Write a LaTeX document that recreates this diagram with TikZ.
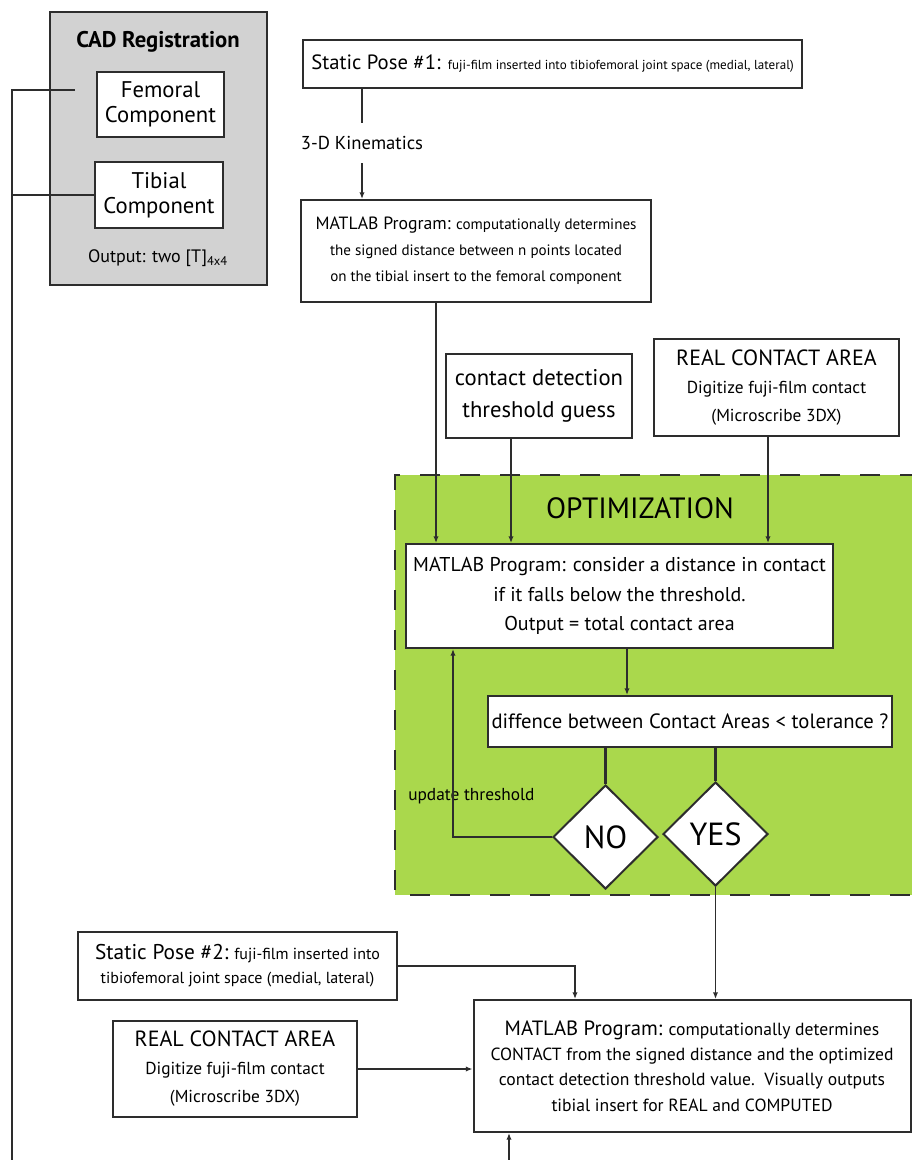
\documentclass[tikz,border=0pt]{standalone}
\usepackage{fontspec}
\setmainfont{PT Sans}
\usetikzlibrary{arrows.meta,shapes.geometric}
\definecolor{optgreen}{RGB}{170,216,76}
\definecolor{cadgray}{RGB}{210,210,210}
\definecolor{ink}{RGB}{45,45,45}
\newcommand{\fs}[2]{\fontsize{#1}{#2}\selectfont}
\tikzset{
  sz/.style 2 args={minimum width=#1*0.75, minimum height=#2*0.75},
  box/.style={draw=ink, line width=1.5, fill=white, align=center, inner sep=1pt},
  wire/.style={draw=ink, line width=1.1},
  arr/.style={wire, -{Latex[length=5,width=4]}},
  thick wire/.style={draw=ink, line width=2.2},
  choice/.style={draw=ink, line width=1.5, fill=white, diamond, aspect=1,
    inner sep=0pt, sz={105}{104}, font=\fs{24}{26}},
}
\begin{document}
\begin{tikzpicture}[x=0.75pt, y=-0.75pt]
\useasboundingbox (0,0) rectangle (912,1160);

% optimization region
\fill[optgreen] (395,475) rectangle (912,895);
\draw[ink, line width=1.5, dash pattern=on 15 off 15]
  (920,475) -- (395,475) -- (395,895) -- (920,895);
\node (opttitle) at (640,508) {\fs{22}{24}OPTIMIZATION};

% CAD registration block
\node[draw=ink, line width=1.5, fill=cadgray, sz={217}{273}, inner sep=0pt] (cad) at (158.5,148.5) {};
\node (cadtitle) at (158,42) {\fs{17}{19}\bfseries CAD Registration};
\node[box, sz={127}{65}, font=\fs{17}{19}] (fem) at (160.5,104.5) {Femoral\\Component};
\node[box, sz={128}{66}, font=\fs{17}{19}] (tib) at (159,195) {Tibial\\Component};
\node (cadout) at (158,258) {\fs{13.5}{15}Output: two [T]$_{\mathrm{4x4}}$};

% static pose #1 and the distance program
\node[box, sz={499}{48}] (sp1) at (552.5,64)
  {\fs{15.5}{18}Static Pose \#1: {\fs{9.8}{12}fuji-film inserted into tibiofemoral joint space (medial, lateral)}};
\node[inner sep=0pt, minimum height=30] (kin) at (362,143) {\fs{14}{16}3-D Kinematics};
\node[box, sz={350}{102}, font=\fs{11.3}{19.5}] (m1) at (476,251)
  {{\fs{13.3}{16}MATLAB Program:} computationally determines\\
   the signed distance between n points located\\
   on the tibial insert to the femoral component};

% inputs to the optimization
\node[box, sz={186}{84}, font=\fs{17}{24}] (guess) at (539,396)
  {contact detection\\threshold guess};
\node[box, sz={245}{97}, font=\fs{13}{21}] (rca1) at (776.5,387.5)
  {{\fs{16.5}{18}REAL CONTACT AREA}\\Digitize fuji-film contact\\(Microscribe 3DX)};

% optimization loop
\node[box, sz={427}{104}, font=\fs{15}{22}] (m2) at (619.5,596)
  {MATLAB Program: consider a distance in contact\\
   if it falls below the threshold.\\
   Output = total contact area};
\node[box, sz={404}{51}, font=\fs{15.5}{17}] (diff) at (690,721.5)
  {diffence between Contact Areas < tolerance ?};
\node[choice] (no) at (605.5,837) {NO};
\node[choice] (yes) at (715.5,834) {YES};
\node[anchor=west, inner sep=0pt] (upd) at (408,796) {\fs{13}{15}update threshold};

% static pose #2 and the contact program
\node[box, sz={319}{68}, font=\fs{12}{18}] (sp2) at (237.5,966)
  {{\fs{16}{19}Static Pose \#2:} fuji-film inserted into\\
   tibiofemoral joint space (medial, lateral)};
\node[box, sz={244}{96}, font=\fs{13}{21}] (rca2) at (235,1069)
  {{\fs{16.5}{18}REAL CONTACT AREA}\\Digitize fuji-film contact\\(Microscribe 3DX)};
\node[box, sz={437}{132}, font=\fs{13.2}{19}] (m3) at (692,1066)
  {{\fs{15.5}{17}MATLAB Program:} computationally determines\\
   CONTACT from the signed distance and the optimized\\
   contact detection threshold value.\ \ Visually outputs\\
   tibial insert for REAL and COMPUTED};

% free ends of connectors
\coordinate (femstub) at (75,90);
\coordinate (busTop) at (12,90);
\coordinate (busBot) at (12,1160);
\coordinate (feedBot) at (509,1160);
\coordinate (noTurn) at (453,837);

% connectors
\draw[wire] (femstub) -- (busTop) -- (busBot);
\draw[wire] (tib.west) -- (tib.west -| busTop);
\draw[wire] (sp1.south -| kin) -- (kin.north);
\draw[arr] (kin.south) -- (m1.north -| kin);
\draw[arr] (m1.south -| 436,0) -- (m2.north -| 436,0);
\draw[arr] (guess.south -| 511,0) -- (m2.north -| 511,0);
\draw[arr] (rca1.south -| 768,0) -- (m2.north -| 768,0);
\draw[arr] (m2.south -| 627,0) -- (diff.north -| 627,0);
\draw[thick wire] (diff.south -| no) -- (no.north);
\draw[thick wire] (diff.south -| yes) -- (yes.north);
\draw[arr] (no.west) -- (noTurn) -- (m2.south -| noTurn);
\draw[arr] (yes.south) -- (m3.north -| yes);
\draw[arr] (sp2.east) -| (m3.north -| 575,0);
\draw[arr] (rca2.east) -- (m3.west |- rca2.east);
\draw[arr] (feedBot) -- (m3.south -| feedBot);
\end{tikzpicture}
\end{document}
